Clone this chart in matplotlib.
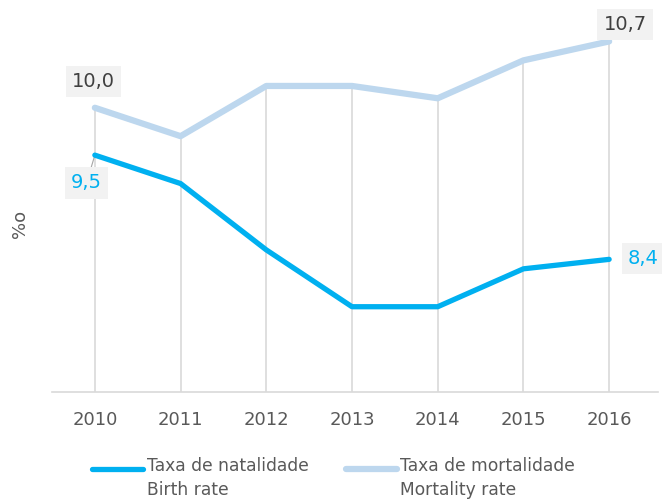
import matplotlib
matplotlib.use("Agg")
import matplotlib.pyplot as plt
from matplotlib.lines import Line2D

years = ["2010", "2011", "2012", "2013", "2014", "2015", "2016"]
birth_rate = [9.5, 9.2, 8.5, 7.9, 7.9, 8.3, 8.4]
mortality_rate = [10.0, 9.7, 10.23, 10.23, 10.1, 10.5, 10.7]
legend_labels = ["Taxa de natalidade\nBirth rate", "Taxa de mortalidade\nMortality rate"]
y_label = "%o"

plt.rcParams['font.family'] = ['DejaVu Sans']

W, H = 662, 499
fig = plt.figure(figsize=(W/100, H/100), dpi=100)
ax = fig.add_axes([52/W, (H-392)/H, (658-52)/W, (392-13)/H])

x = list(range(len(years)))
BIRTH = "#00B0F0"
MORT = "#BDD7EE"
GRID = "#d9d9d9"

# drop lines
for xi, b, m in zip(x, birth_rate, mortality_rate):
    ax.plot([xi, xi], [7.0, max(b, m)], color=GRID, lw=1.2, zorder=1)

ax.plot(x, mortality_rate, color=MORT, lw=4.5, solid_capstyle="round", zorder=3)
ax.plot(x, birth_rate, color=BIRTH, lw=3.8, solid_capstyle="round", zorder=4)

ax.set_xlim(-0.5, 6.57)
ax.set_ylim(7.0, 11.0)
ax.set_yticks([])
ax.set_xticks(x)
ax.set_xticklabels(years, fontsize=13, color="#595959")
ax.tick_params(axis="x", length=0, pad=14)
for s in ["top", "right", "left"]:
    ax.spines[s].set_visible(False)
ax.spines["bottom"].set_color(GRID)
ax.spines["bottom"].set_linewidth(1.2)

fig.text(20/W, 1 - 224/H, y_label, rotation=90, fontsize=13, color="#595959",
         ha="center", va="center")

def fmt(v):
    return f"{v:.1f}".replace(".", ",")

bbox = dict(boxstyle="square,pad=0.32", fc="#f2f2f2", ec="none")
LS = 14
ax.annotate(fmt(mortality_rate[0]), (0, mortality_rate[0]), xytext=(-1, 19), textcoords="offset points",
            ha="center", va="center", fontsize=LS, color="#404040", bbox=bbox)
ax.annotate(fmt(mortality_rate[-1]), (6, mortality_rate[-1]), xytext=(11.5, 12), textcoords="offset points",
            ha="center", va="center", fontsize=LS, color="#404040", bbox=bbox)
ax.annotate(fmt(birth_rate[0]), (0, birth_rate[0]), xytext=(-6, -20), textcoords="offset points",
            ha="center", va="center", fontsize=LS, color=BIRTH, bbox=bbox,
            arrowprops=dict(arrowstyle="-", color="#a6a6a6", lw=0.8, shrinkA=0, shrinkB=0))
ax.annotate(fmt(birth_rate[-1]), (6, birth_rate[-1]), xytext=(24.5, 0.5), textcoords="offset points",
            ha="center", va="center", fontsize=LS, color=BIRTH, bbox=bbox)

# legend drawn manually in figure pixels
for (x0, x1, tx), col, lw, lab in zip([(92, 143, 147), (346, 397, 400)], [BIRTH, MORT], [3.8, 4.5], legend_labels):
    fig.add_artist(Line2D([x0/W, x1/W], [1 - 469/H, 1 - 469/H], color=col, lw=lw,
                          solid_capstyle="round", transform=fig.transFigure))
    fig.text(tx/W, 1 - 457/H, lab, fontsize=12.3, color="#595959", ha="left", va="top",
             linespacing=1.45)

fig.savefig("out.png", dpi=100)
